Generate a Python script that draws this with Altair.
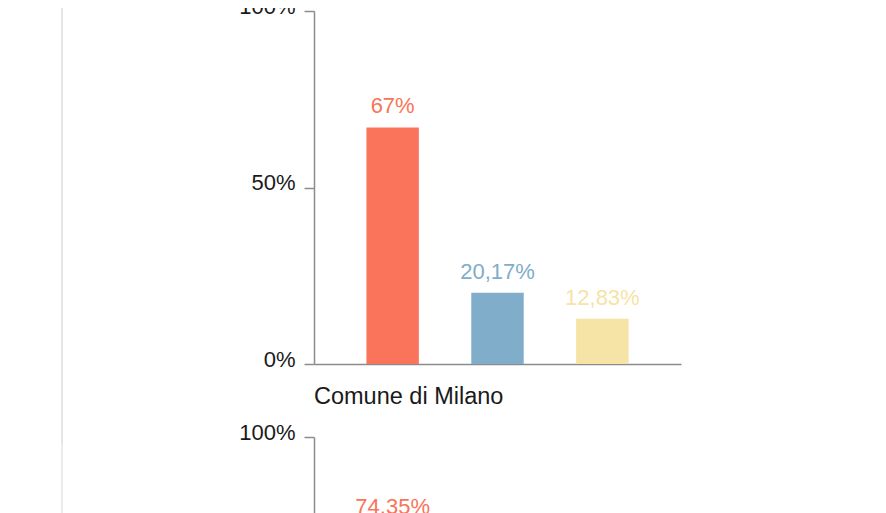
import altair as alt
import pandas as pd

# --- data ---
categorie = ["Categoria A", "Categoria B", "Categoria C"]
valori_1 = [67, 20.17, 12.83]          # first panel (title scrolled out of view)
categorie_2 = ["Categoria A"]          # second panel: only the first bar is visible
valori_2 = [74.35]
colori = ["#f9745a", "#80adc9", "#f6e3a6"]
tick_y = [0, 50, 100]
titolo_2 = "Comune di Milano"

W, H = 367, 353
FONT = "Liberation Sans"


def pannello(df, expr_label, rule_top, rule_bottom, title=None):
    x = alt.X(
        "cat:N",
        sort=categorie,
        scale=alt.Scale(domain=categorie, paddingInner=0.5, paddingOuter=0.5),
        axis=alt.Axis(labels=False, ticks=False, title=None,
                      domainColor="#8c8c8c", domainWidth=1.5),
    )
    y = alt.Y(
        "val:Q",
        scale=alt.Scale(domain=[0, 100], nice=False),
        axis=alt.Axis(values=tick_y, labelExpr="datum.value + '%'", title=None,
                      grid=False, tickSize=10, labelPadding=9, labelFontSize=22,
                      labelColor="#1a1a1a", labelOffset=-5, labelBaseline="middle",
                      domainColor="#8c8c8c", tickColor="#8c8c8c",
                      domainWidth=1.5, tickWidth=1.5),
    )
    colore = alt.Color("cat:N", scale=alt.Scale(domain=categorie, range=colori), legend=None)
    base = alt.Chart(df)
    barre = base.mark_bar().encode(x=x, y=y, color=colore)
    testi = base.transform_calculate(lab=expr_label).mark_text(
        dy=-21, fontSize=22, baseline="middle", font=FONT
    ).encode(x=x, y=y, text="lab:N", color=colore)
    linea = base.mark_rule(color="#e4e4e4", strokeWidth=1.5).encode(
        x=alt.value(-252), y=alt.value(rule_top), y2=alt.value(rule_bottom)
    )
    ch = alt.layer(linea, barre, testi).properties(width=W, height=H)
    if title is not None:
        ch = ch.properties(title=alt.TitleParams(
            title, anchor="start", frame="group", fontSize=23.5,
            fontWeight="normal", baseline="alphabetic", dy=22,
            color="#1a1a1a", font=FONT, offset=16))
    return ch


df1 = pd.DataFrame({"cat": categorie, "val": valori_1})
df2 = pd.DataFrame({"cat": categorie_2, "val": valori_2})

p1 = pannello(df1, "replace(format(datum.val, ''), '.', ',') + '%'", -14, H + 80)
p2 = pannello(df2, "format(datum.val, '') + '%'", -14, H + 80, title=titolo_2)

chart = alt.vconcat(p1, p2, spacing=73, bounds="flush").properties(
    padding={"top": -13, "left": 53, "right": 5, "bottom": 5}
).configure_view(stroke=None).configure_axis(labelFont=FONT, titleFont=FONT)

chart.save("out.html", embed_options={"renderer": "svg", "actions": False})
